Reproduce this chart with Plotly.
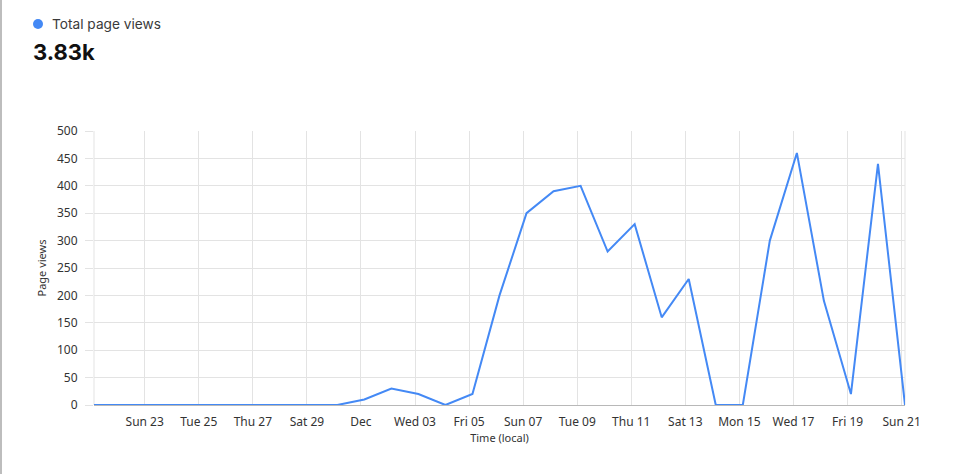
import plotly.graph_objects as go
import pandas as pd

dates = pd.date_range("2025-11-21 03:00", "2025-12-21 03:00", freq="D")
page_views = [0, 0, 0, 0, 0, 0, 0, 0, 0, 0,
              10, 30, 20, 0, 20, 200, 350, 390, 400, 280,
              330, 160, 230, 0, 0, 300, 460, 190, 20, 440, 0]
tick_dates = ["2025-11-23", "2025-11-25", "2025-11-27", "2025-11-29", "2025-12-01",
              "2025-12-03", "2025-12-05", "2025-12-07", "2025-12-09", "2025-12-11",
              "2025-12-13", "2025-12-15", "2025-12-17", "2025-12-19", "2025-12-21"]
tick_labels = ["Sun 23", "Tue 25", "Thu 27", "Sat 29", "Dec", "Wed 03", "Fri 05",
               "Sun 07", "Tue 09", "Thu 11", "Sat 13", "Mon 15", "Wed 17", "Fri 19", "Sun 21"]
series_name = "Total page views"
total_label = "3.83k"

BLUE = "#4489f5"
GRID = "#e3e3e3"
L, R, T, B = 94, 54, 131, 69
W, H = 959, 474
PW = W - L - R
PH = H - T - B

fig = go.Figure(go.Scatter(x=dates, y=page_views, mode="lines",
                           line=dict(color=BLUE, width=2), name=series_name,
                           hoverinfo="x+y"))

fig.update_layout(
    width=W, height=H, margin=dict(l=L, r=R, t=T, b=B),
    paper_bgcolor="white", plot_bgcolor="white", showlegend=False,
    font=dict(family="Noto Sans, Open Sans, sans-serif", size=12, color="#333333"),
    xaxis=dict(range=[dates[0], dates[-1]], tickvals=tick_dates, ticktext=tick_labels,
               showgrid=True, gridcolor=GRID, gridwidth=1, zeroline=False,
               showline=False, ticks="", ticklabelstandoff=8,
               tickfont=dict(size=12, color="#333333"),
               title=dict(text="Time (local)", font=dict(size=11, color="#333333"), standoff=3)),
    yaxis=dict(range=[0, 500], dtick=50, showgrid=True, gridcolor=GRID, gridwidth=1,
               zeroline=True, zerolinecolor="#b8b8b8", zerolinewidth=1,
               ticks="outside", ticklen=8, tickcolor=GRID, ticklabelstandoff=5,
               tickfont=dict(size=12, color="#333333"),
               title=dict(text="Page views", font=dict(size=11, color="#333333"), standoff=8)),
)

# left vertical grid border of the plot
fig.add_shape(type="line", xref="paper", yref="paper", x0=0, x1=0, y0=0, y1=1,
              line=dict(color=GRID, width=1), layer="below")
# right border of plot grid
fig.add_shape(type="line", xref="paper", yref="paper", x0=1, x1=1, y0=0, y1=1,
              line=dict(color=GRID, width=1), layer="below")
# page left edge border
fig.add_shape(type="line", xref="paper", yref="paper",
              x0=(1 - L) / PW, x1=(1 - L) / PW, y0=-B / PH, y1=1 + T / PH,
              line=dict(color="#bdbdbd", width=2))

# header: dot + series name + total
fig.add_shape(type="circle", xref="paper", yref="paper",
              x0=(33 - L) / PW, x1=(43 - L) / PW,
              y0=1 + (T - 29) / PH, y1=1 + (T - 19) / PH,
              fillcolor=BLUE, line=dict(width=0))
fig.add_annotation(xref="paper", yref="paper", x=(50 - L) / PW, y=1 + (T - 24) / PH,
                   text=series_name, showarrow=False, xanchor="left", yanchor="middle",
                   font=dict(family="Inter, Noto Sans, sans-serif", size=13.7, color="#3a3a3a"))
fig.add_annotation(xref="paper", yref="paper", x=(31 - L) / PW, y=1 + (T - 52) / PH,
                   text="<b>" + total_label + "</b>", showarrow=False, xanchor="left",
                   yanchor="middle",
                   font=dict(family="Inter, Noto Sans, sans-serif", size=22, color="#111111"))

fig.write_html("out.html", config={"displayModeBar": False},
               post_script="document.body.style.margin='0';document.body.style.overflow='hidden';")
